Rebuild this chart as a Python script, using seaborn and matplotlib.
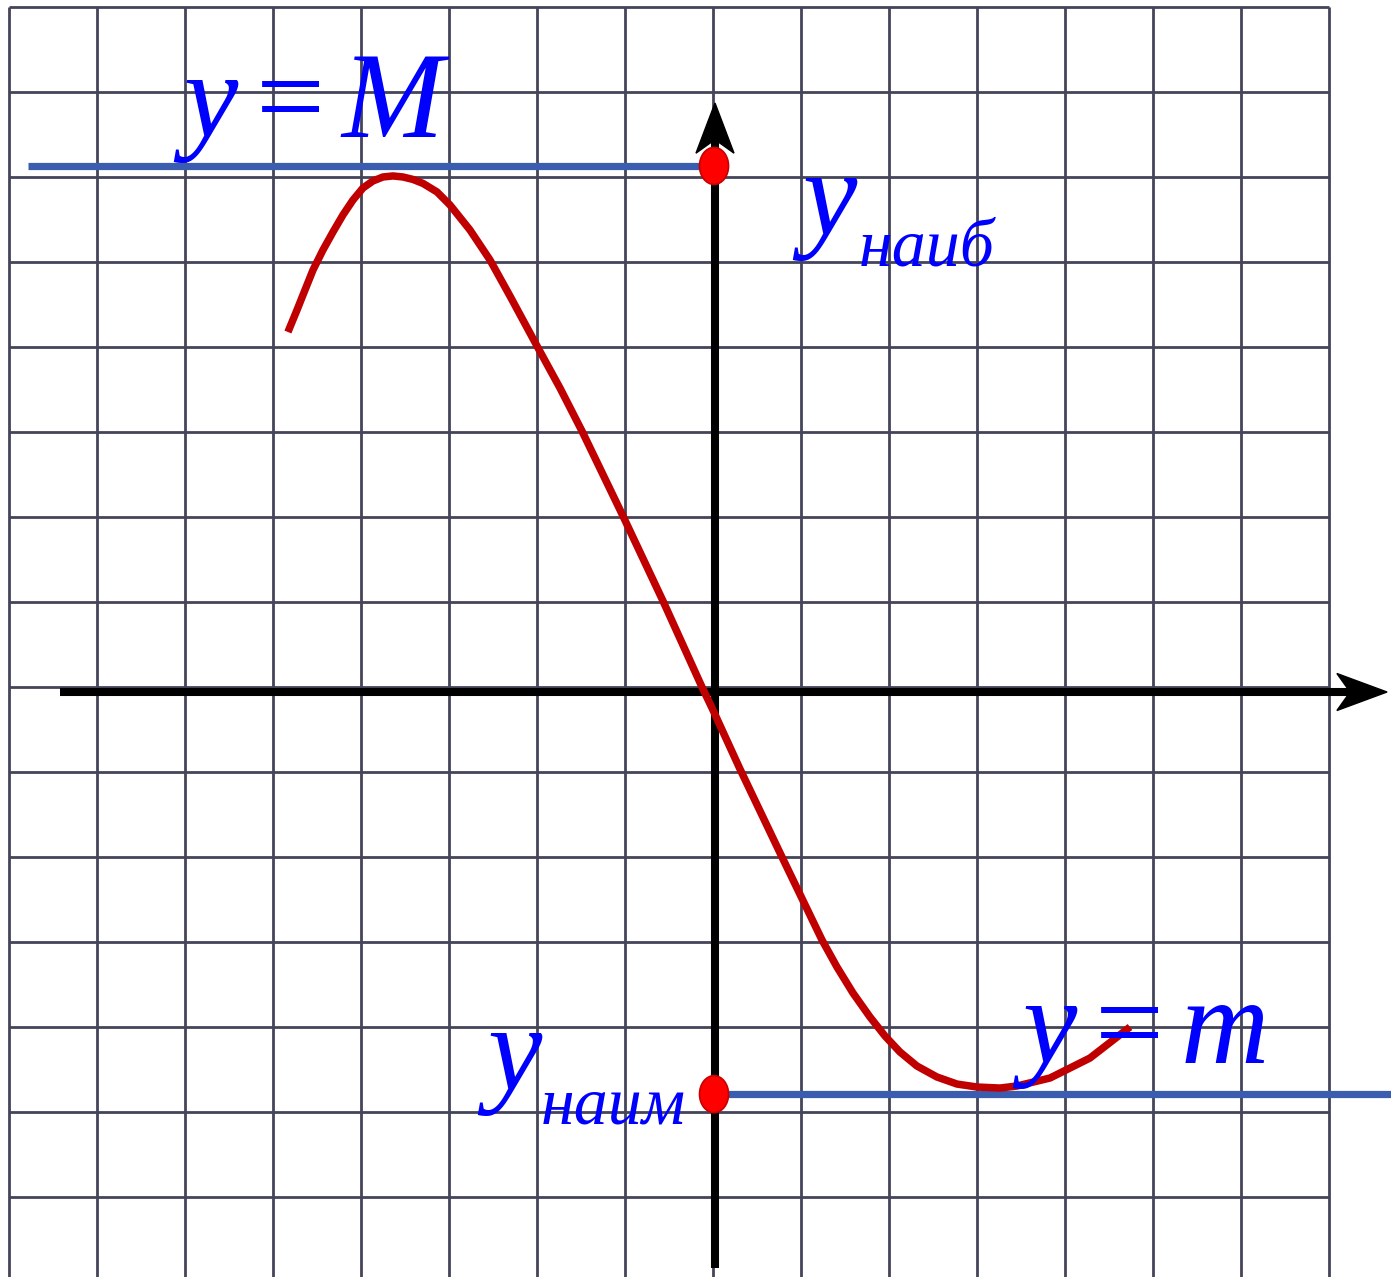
import matplotlib
matplotlib.use("Agg")
import matplotlib.pyplot as plt
import seaborn as sns
import pandas as pd
from matplotlib.patches import Ellipse, Polygon

# ---- data ----
curve_x = [-4.830, -4.727, -4.636, -4.545, -4.432, -4.318, -4.205, -4.091, -3.977,
           -3.864, -3.750, -3.636, -3.523, -3.409, -3.295, -3.136, -2.989, -2.761,
           -2.534, -2.307, -2.000, -1.739, -1.489, -1.023, -0.568, -0.125, 0.0,
           0.307, 0.773, 1.239, 1.409, 1.591, 1.784, 1.955, 2.125, 2.318, 2.545,
           2.773, 3.000, 3.261, 3.455, 3.830, 4.284, 4.739]
curve_y = [4.176, 4.435, 4.671, 4.906, 5.141, 5.353, 5.553, 5.729, 5.871,
           5.953, 6.000, 6.012, 6.000, 5.971, 5.924, 5.824, 5.671, 5.376,
           5.024, 4.600, 4.012, 3.518, 3.012, 2.012, 1.012, 0.000, -0.271,
           -0.965, -1.976, -2.976, -3.294, -3.600, -3.882, -4.106, -4.294, -4.459, -4.588,
           -4.671, -4.706, -4.718, -4.694, -4.600, -4.365, -4.000]
M_value = 6.13
m_value = -4.79
grid_x = list(range(-8, 8))
grid_y = list(range(-7, 9))
label_max = r"$y = M$"
label_min = r"$y = m$"
sub_max = "наиб"
sub_min = "наим"

sns.set_style("white")
plt.rcParams["mathtext.fontset"] = "custom"
plt.rcParams["mathtext.it"] = "Liberation Serif:italic"
plt.rcParams["mathtext.rm"] = "Liberation Serif"
plt.rcParams["mathtext.default"] = "it"

fig = plt.figure(figsize=(13.91, 12.77), dpi=100)
ax = fig.add_axes([0, 0, 1, 1])
ax.set_xlim(-8.102, 7.705)
ax.set_ylim(-6.941, 8.082)
ax.axis("off")

gridc = "#44445a"
ax.vlines(grid_x, -7.2, 8.0, colors=gridc, lw=2.0, zorder=1)
ax.hlines(grid_y, -8.0, 7.0, colors=gridc, lw=2.0, zorder=1)

# axes
axis_x0, axis_y0 = 0.023, -0.059
ax.plot([axis_x0, axis_x0], [-6.84, 6.45], color="black", lw=5.8, solid_capstyle="butt", zorder=3)
ax.plot([-7.42, 7.25], [axis_y0, axis_y0], color="black", lw=5.8, solid_capstyle="butt", zorder=3)
ax.add_patch(Polygon([[axis_x0, 6.87], [axis_x0 - 0.216, 6.28], [axis_x0, 6.44], [axis_x0 + 0.216, 6.28]],
                     closed=True, color="black", zorder=3))
ax.add_patch(Polygon([[7.66, axis_y0], [7.09, axis_y0 + 0.218], [7.24, axis_y0], [7.09, axis_y0 - 0.218]],
                     closed=True, color="black", zorder=3))

# horizontal blue lines
bluec = "#3a5db0"
ax.plot([-7.78, 0.0], [M_value, M_value], color=bluec, lw=5.2, solid_capstyle="butt", zorder=4)
ax.plot([0.0, 7.8], [m_value, m_value], color=bluec, lw=5.2, solid_capstyle="butt", zorder=4)

# curve
df = pd.DataFrame({"x": curve_x, "y": curve_y})
sns.lineplot(data=df, x="x", y="y", sort=False, estimator=None, color="#c00000",
             lw=5.4, ax=ax, zorder=5)
ax.lines[-1].set_solid_capstyle("butt")
ax.lines[-1].set_solid_joinstyle("round")

# points on the axis
for yv in (M_value, m_value):
    ax.add_patch(Ellipse((0.012, yv), 0.33, 0.435, facecolor="#ff0000", edgecolor="#c80000",
                         lw=1.2, zorder=6))

txtc = "#0000ff"
ax.text(-6.14, 6.47, label_max, color=txtc, fontsize=88, ha="left", va="baseline", zorder=7)
ax.text(3.40, -4.42, label_min, color=txtc, fontsize=88, ha="left", va="baseline", zorder=7)

ax.text(1.01, 5.32, "y", family="Liberation Serif", style="italic", color=txtc,
        fontsize=88, ha="left", va="baseline", zorder=7)
ax.text(1.66, 4.96, sub_max, family="Liberation Serif", style="italic", color=txtc,
        fontsize=49, ha="left", va="baseline", zorder=7)
ax.text(-2.56, -4.74, "y", family="Liberation Serif", style="italic", color=txtc,
        fontsize=88, ha="left", va="baseline", zorder=7)
ax.text(-1.96, -5.14, sub_min, family="Liberation Serif", style="italic", color=txtc,
        fontsize=49, ha="left", va="baseline", zorder=7)

fig.savefig("out.png", dpi=100, facecolor="white")
